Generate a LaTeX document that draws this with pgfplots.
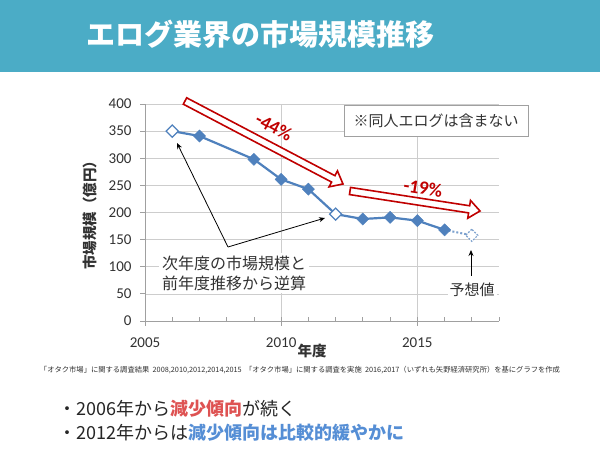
\documentclass[border=0pt]{standalone}
\usepackage{fontspec}
\setmainfont{Carlito}
\newfontfamily\jp{Noto Sans CJK JP}
\usepackage{graphicx}
\usepackage{pgfplots}
\pgfplotsset{compat=1.18}
\usetikzlibrary{calc,arrows.meta}
\definecolor{titlebar}{RGB}{75,172,198}
\definecolor{serblue}{RGB}{79,129,189}
\definecolor{arrred}{RGB}{192,0,0}
\definecolor{txtred}{RGB}{222,82,82}
\definecolor{txtblue}{RGB}{85,142,213}
\definecolor{gridgray}{RGB}{205,205,205}
\definecolor{axgray}{RGB}{160,160,160}
\definecolor{txtgray}{RGB}{50,50,50}

\newcommand\blockarrow[2]{%
 \coordinate (A) at #1; \coordinate (B) at #2;
 \coordinate (C) at ($(B)!11pt!(A)$);
 \draw[arrred, line width=1.6pt, fill=white, line join=miter]
 ($(A)!3.6pt!90:(B)$) -- ($(C)!3.6pt!-90:(A)$) -- ($(C)!9pt!-90:(A)$) -- (B) -- ($(C)!9pt!90:(A)$) -- ($(C)!3.6pt!90:(A)$) -- ($(A)!3.6pt!-90:(B)$) -- cycle;
}

\begin{document}
\begin{tikzpicture}[x=1pt,y=1pt]
\useasboundingbox (0,0) rectangle (600,450);
\fill[white] (0,0) rectangle (600,450);
\fill[titlebar] (0,378) rectangle (600,450);
\node[text=white, font=\jp\bfseries\fontsize{29}{34}\selectfont] at (260,416) {エログ業界の市場規模推移};

\begin{axis}[
  at={(145pt,129pt)}, anchor=south west,
  scale only axis, width=354pt, height=217pt,
  xmin=2005, xmax=2018, ymin=0, ymax=400,
  xtick={2005,2010,2015}, minor xtick={2006,...,2018},
  ytick={0,50,...,400},
  xmajorgrids, ymajorgrids,
  grid style={gridgray, line width=0.6pt},
  axis x line=bottom, axis y line=left,
  axis line style={-, axgray, line width=0.8pt},
  tick style={axgray, line width=0.8pt},
  tick align=outside,
  major tick length=5pt, minor tick length=4pt,
  minor x tick style={yshift=4pt},
  /pgf/number format/assume math mode=true,
  /pgf/number format/1000 sep={},
  ticklabel style={font=\fontsize{15}{18}\selectfont, text=txtgray},
  xticklabel style={yshift=-8pt},
  yticklabel style={xshift=-5pt},
  clip=false,
]
\addplot[serblue, line width=2.2pt] coordinates {(2006,350)(2007,341)(2009,298)(2010,261)(2011,243)(2012,197)(2013,188)(2014,191)(2015,185)(2016,168)};
\addplot[serblue!75, line width=2pt, dash pattern=on 2pt off 2pt] coordinates {(2016,168)(2017,158)};
\addplot[only marks, mark=square*, mark size=4.3pt, mark options={rotate=45, fill=serblue, draw=serblue}] coordinates {(2007,341)(2009,298)(2010,261)(2011,243)(2013,188)(2014,191)(2015,185)(2016,168)};
\addplot[only marks, mark=square*, mark size=4.3pt, mark options={rotate=45, fill=white, draw=serblue, line width=1.2pt}] coordinates {(2006,350)(2012,197)};
\addplot[only marks, mark=square*, mark size=4.3pt, mark options={rotate=45, fill=white, draw=serblue!75, line width=1.2pt, dash pattern=on 1.8pt off 1.4pt}] coordinates {(2017,158)};
\end{axis}

% axis labels
\node[rotate=90, font=\jp\bfseries\fontsize{14.5}{16}\selectfont, text=txtgray] at (90,238) {市場規模（億円）};
\node[font=\jp\bfseries\fontsize{14.5}{16}\selectfont, text=txtgray] at (312,99) {年度};

% red block arrows
\blockarrow{(185,349)}{(343,266)}
\blockarrow{(350,259)}{(480,239)}
\node[rotate=-27.7, text=arrred, font=\bfseries\fontsize{19}{22}\selectfont] at (274,323) {-44\%};
\node[rotate=-9, text=arrred, font=\bfseries\fontsize{19}{22}\selectfont] at (423,262) {-19\%};

% note box
\node[draw=axgray, fill=white, line width=0.8pt, minimum width=184pt, minimum height=31pt, inner sep=0pt, text=txtgray, font=\jp\fontsize{15}{18}\selectfont] at (436,329.5) {※同人エログは含まない};

% annotation
\node[fill=white, align=center, inner sep=3pt, text=txtgray, font=\jp\fontsize{16}{20}\selectfont] at (234,177) {次年度の市場規模と\\前年度推移から逆算};
\draw[black, line width=0.8pt, -{Stealth[length=6pt,width=5pt]}] (228,203) -- (177,307);
\draw[black, line width=0.8pt, -{Stealth[length=6pt,width=5pt]}] (228,203) -- (325,232);

% forecast
\node[fill=white, inner sep=2pt, text=txtgray, font=\jp\fontsize{15}{18}\selectfont] at (472,160) {予想値};
\draw[black, line width=0.8pt, -{Stealth[length=6pt,width=5pt]}] (471,174) -- (471,200);

% source
\node[text=txtgray] at (300,80) {\resizebox{520pt}{!}{\jp\fontsize{7}{8}\selectfont 「オタク市場」に関する調査結果\ \ 2008,2010,2012,2014,2015\ \ 「オタク市場」に関する調査を実施\ \ 2016,2017（いずれも矢野経済研究所）を基にグラフを作成}};

% bullets
\node[anchor=west, inner sep=0pt, text=black!85, font=\jp\fontsize{18}{22}\selectfont] at (58,41) {・2006年から{\color{txtred}\bfseries 減少傾向}が続く};
\node[anchor=west, inner sep=0pt, text=black!85, font=\jp\fontsize{18}{22}\selectfont] at (58,17) {・2012年からは{\color{txtblue}\bfseries 減少傾向は比較的緩やかに}};
\end{tikzpicture}
\end{document}
